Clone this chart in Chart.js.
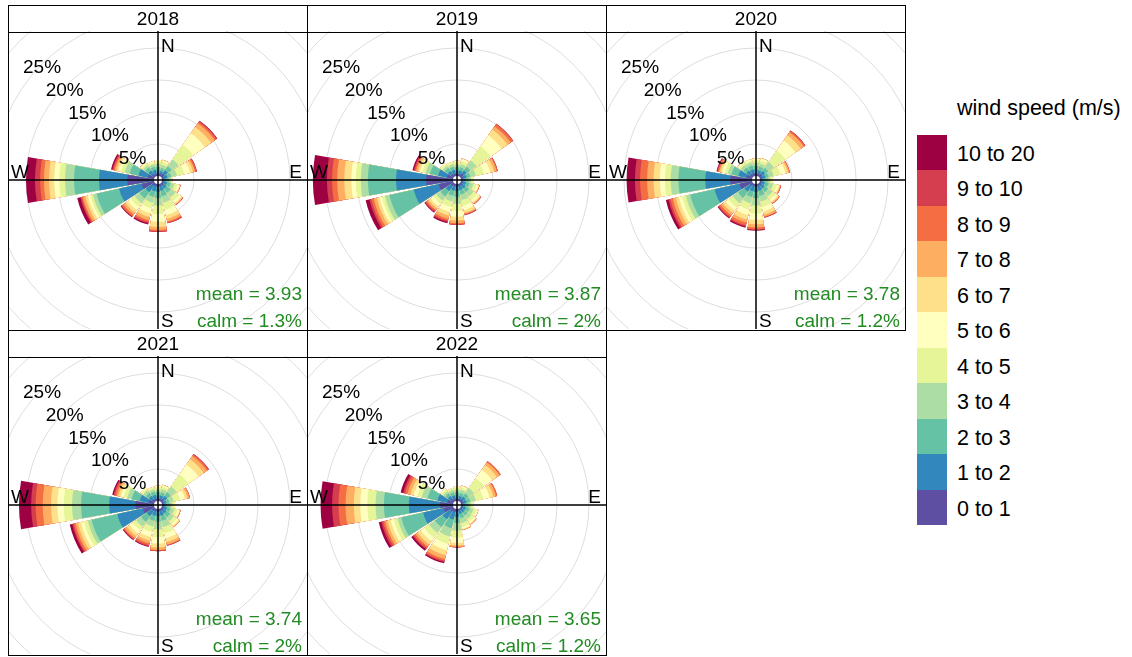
<!DOCTYPE html>
<html>
<head>
<meta charset="utf-8">
<script src="https://cdn.jsdelivr.net/npm/chart.js@4.4.1/dist/chart.umd.min.js"></script>
<style>
body { margin: 0; background: #fff; font-family: "Liberation Sans", Arial, sans-serif; }
#pagina { position: relative; width: 1132px; height: 657px; overflow: hidden; }
.caja { position: absolute; box-sizing: border-box; border: 1px solid #000; z-index: 2; pointer-events: none; }
.tira { text-align: center; font-size: 19px; line-height: 25px; color: #000; }
canvas { position: absolute; z-index: 1; }
.leyenda { position: absolute; font-size: 21.5px; color: #000; white-space: nowrap; }
.color { position: absolute; width: 30px; }
</style>
</head>
<body>
<div id="pagina"></div>
<script>
// datos de la rosa de vientos (% de horas por direccion y rango de velocidad)
const direcciones = ["N","NNE","NE","ENE","E","ESE","SE","SSE","S","SSW","SW","WSW","W","WNW","NW","NNW"]
const velocidades = ["0 to 1","1 to 2","2 to 3","3 to 4","4 to 5","5 to 6","6 to 7","7 to 8","8 to 9","9 to 10","10 to 20"]
const colores = ["#5E4FA2","#3288BD","#66C2A5","#ABDDA4","#E6F598","#FFFFBF","#FEE08B","#FDAE61","#F46D43","#D53E4F","#9E0142"]
const anios = ["2018","2019","2020","2021","2022"]
const medias = ["3.93","3.87","3.78","3.74","3.65"]
const calmas = ["1.3%","2%","1.2%","2%","1.2%"]
const circulos = [5,10,15,20,25,30]

// cada fila: una direccion (N, NNE, ... NNW), cada columna: un rango de velocidad
const rosa2018 = [
  [0.4,0.5,0.5,0.5,0.4,0.2,0,0,0,0,0],
  [0.4,0.4,0.5,0.5,0.5,0.2,0.1,0,0,0,0],
  [0.6,0.65,0.75,1.3,2.8,2.2,1.2,0.7,0.3,0.15,0.05],
  [0.4,0.5,0.6,0.9,1.2,0.9,0.5,0.3,0.2,0.1,0],
  [0.3,0.4,0.4,0.3,0.2,0,0,0,0,0,0],
  [0.3,0.5,0.6,0.6,0.5,0.3,0.1,0.05,0.05,0,0],
  [0.4,0.6,0.8,0.9,0.7,0.4,0.2,0.1,0.05,0.05,0],
  [0.4,0.7,0.9,1.0,1.1,0.9,0.6,0.4,0.2,0.1,0],
  [0.4,0.8,1.0,1.2,1.3,1.2,0.8,0.5,0.2,0.1,0],
  [0.4,0.8,0.9,0.9,0.9,0.8,0.6,0.5,0.3,0.2,0.2],
  [0.5,1.2,1.2,0.9,0.7,0.6,0.5,0.4,0.3,0.1,0.1],
  [2.0,3.6,3.6,0.6,0.4,0.4,0.4,0.4,0.2,0.2,0.5],
  [4.17,4.42,3.91,1.4,0.9,0.8,0.8,0.8,0.6,0.8,1.4],
  [1.0,1.5,1.4,0.8,0.6,0.4,0.3,0.3,0.2,0.2,0.2],
  [0.5,0.7,0.6,0.4,0.3,0.2,0.1,0,0,0,0],
  [0.4,0.6,0.5,0.4,0.3,0.2,0,0,0,0,0]
]
const rosa2019 = [
  [0.4,0.5,0.5,0.4,0.4,0.2,0,0,0,0,0],
  [0.4,0.5,0.5,0.5,0.5,0.3,0.1,0,0,0,0],
  [0.6,0.6,0.7,1.2,2.7,2.1,1.1,0.6,0.4,0.1,0],
  [0.4,0.5,0.6,0.9,1.3,1.0,0.6,0.4,0.15,0.05,0],
  [0.3,0.4,0.5,0.4,0.3,0.1,0,0,0,0,0],
  [0.3,0.5,0.6,0.6,0.5,0.3,0.1,0.05,0.05,0,0],
  [0.4,0.6,0.7,0.8,0.7,0.4,0.2,0.1,0.05,0.05,0],
  [0.4,0.6,0.7,0.9,0.9,0.7,0.4,0.2,0.1,0.1,0],
  [0.4,0.7,0.9,1.1,1.1,0.9,0.6,0.4,0.2,0.1,0],
  [0.4,0.7,0.8,0.9,0.9,0.8,0.6,0.5,0.3,0.2,0.2],
  [0.5,1.0,1.0,0.8,0.6,0.5,0.4,0.3,0.2,0.2,0.1],
  [2.3,4.0,3.9,0.7,0.5,0.4,0.4,0.5,0.4,0.3,0.6],
  [4.2,4.7,4.4,1.1,0.8,0.7,1.1,1.1,0.8,0.8,2.2],
  [1.0,1.4,1.3,0.7,0.5,0.4,0.3,0.3,0.2,0.2,0.2],
  [0.5,0.6,0.6,0.4,0.3,0.2,0,0,0,0,0],
  [0.4,0.6,0.5,0.4,0.3,0.1,0,0,0,0,0]
]
const rosa2020 = [
  [0.4,0.6,0.6,0.5,0.4,0.2,0.1,0,0,0,0],
  [0.4,0.5,0.6,0.5,0.5,0.3,0.1,0,0,0,0],
  [0.5,0.6,0.6,1.1,2.2,1.9,1.0,0.6,0.2,0.1,0],
  [0.4,0.5,0.5,0.8,1.1,0.8,0.4,0.2,0.1,0,0],
  [0.3,0.4,0.5,0.4,0.3,0.1,0,0,0,0,0],
  [0.3,0.5,0.6,0.7,0.6,0.3,0.2,0.1,0.05,0.05,0],
  [0.4,0.6,0.7,0.8,0.6,0.4,0.2,0.1,0.1,0,0],
  [0.4,0.7,0.8,0.9,0.9,0.7,0.5,0.3,0.1,0.1,0],
  [0.4,0.8,1.0,1.2,1.2,1.0,0.7,0.5,0.3,0.1,0.1],
  [0.4,0.8,0.9,1.0,1.0,0.9,0.7,0.5,0.4,0.2,0.2],
  [0.5,1.1,1.2,1.0,0.8,0.6,0.5,0.4,0.3,0.2,0.1],
  [2.0,4.0,3.9,0.7,0.6,0.5,0.5,0.5,0.4,0.3,0.4],
  [3.4,3.9,4.2,1.2,0.9,0.8,1.0,1.0,1.1,0.8,1.3],
  [0.9,1.3,1.1,0.6,0.5,0.4,0.3,0.2,0.2,0.1,0.1],
  [0.5,0.7,0.6,0.5,0.3,0.2,0.1,0,0,0,0],
  [0.5,0.6,0.6,0.5,0.3,0.2,0,0,0,0,0]
]
const rosa2021 = [
  [0.4,0.5,0.5,0.4,0.4,0.2,0,0,0,0,0],
  [0.4,0.5,0.5,0.5,0.4,0.2,0.1,0,0,0,0],
  [0.5,0.6,0.7,1.1,2.3,1.9,1.0,0.6,0.3,0.1,0],
  [0.3,0.4,0.5,0.7,1.0,0.8,0.4,0.3,0.1,0,0],
  [0.3,0.4,0.5,0.4,0.3,0.1,0,0,0,0,0],
  [0.3,0.5,0.6,0.6,0.5,0.3,0.1,0.05,0.05,0,0],
  [0.4,0.6,0.7,0.7,0.6,0.3,0.2,0.1,0,0,0],
  [0.4,0.7,0.8,1.0,1.0,0.8,0.6,0.4,0.1,0.1,0],
  [0.4,0.7,0.9,1.2,1.2,1.0,0.6,0.4,0.1,0.1,0],
  [0.4,0.7,0.8,0.9,0.9,0.8,0.6,0.4,0.3,0.2,0.1],
  [0.5,1.0,1.1,0.9,0.7,0.6,0.5,0.4,0.2,0.1,0.1],
  [1.8,4.1,4.1,0.6,0.6,0.5,0.5,0.4,0.3,0.2,0.4],
  [2.9,4.1,4.4,1.4,1.3,1.0,1.0,1.3,1.1,0.7,1.9],
  [0.9,1.4,1.3,0.7,0.6,0.4,0.4,0.3,0.3,0.2,0.2],
  [0.5,0.6,0.6,0.5,0.3,0.2,0,0,0,0,0],
  [0.4,0.6,0.5,0.4,0.3,0.1,0,0,0,0,0]
]
const rosa2022 = [
  [0.4,0.5,0.5,0.4,0.3,0.2,0,0,0,0,0],
  [0.4,0.4,0.5,0.5,0.4,0.2,0.1,0,0,0,0],
  [0.5,0.5,0.6,1.0,1.9,1.6,0.9,0.5,0.2,0,0],
  [0.4,0.5,0.6,0.9,1.2,1.0,0.6,0.4,0.2,0,0],
  [0.3,0.4,0.5,0.4,0.3,0.1,0,0,0,0,0],
  [0.3,0.5,0.6,0.6,0.5,0.2,0.1,0,0,0,0],
  [0.3,0.5,0.6,0.7,0.5,0.3,0.1,0.1,0,0,0],
  [0.3,0.5,0.7,0.8,0.6,0.3,0.1,0.1,0,0,0],
  [0.4,0.8,1.0,1.2,1.1,0.8,0.4,0.2,0.1,0,0],
  [0.5,1.2,1.4,1.3,1.2,1.0,0.8,0.6,0.3,0.2,0.2],
  [0.6,1.5,1.5,1.1,0.9,0.7,0.6,0.4,0.3,0.2,0.3],
  [1.5,3.3,3.5,0.6,0.6,0.5,0.5,0.4,0.3,0.3,0.4],
  [2.0,4.9,3.9,1.3,1.3,1.1,1.0,1.3,1.1,1.0,1.8],
  [0.9,1.6,1.6,0.9,0.7,0.6,0.5,0.5,0.4,0.3,0.4],
  [0.5,0.6,0.5,0.4,0.3,0.2,0,0,0,0,0],
  [0.4,0.5,0.5,0.4,0.2,0.1,0,0,0,0,0]
]
const rosas = [rosa2018, rosa2019, rosa2020, rosa2021, rosa2022]

const HUECO = 0.625   // radio del circulo central en %
const ANCHO = 20      // grados de cada cuna
const SEPARA = 2.5    // grados de separacion
const verde = "#228B22"
const fuente = '19px "Liberation Sans", Arial, sans-serif'

// suma acumulada hasta el rango k, para apilar las cunas
function acumular(rosa, k){
  return rosa.map(fila => fila.slice(0, k + 1).reduce((a, b) => a + b, 0))
}

// ejes, letras y textos encima de las cunas
const decoracion = {
  id: 'decoracion',
  afterDatasetsDraw(chart, args, opts){
    const ctx = chart.ctx
    const r = chart.scales.r
    const cx = r.xCenter, cy = r.yCenter
    const W = chart.width, H = chart.height
    ctx.save()
    ctx.fillStyle = "#fff"
    ctx.beginPath()
    ctx.arc(cx, cy, r.getDistanceFromCenterForValue(0), 0, 2 * Math.PI)
    ctx.fill()

    ctx.strokeStyle = "#000"
    ctx.lineWidth = 1.5
    ctx.beginPath()
    ctx.moveTo(0, cy); ctx.lineTo(W, cy)
    ctx.moveTo(cx, 0); ctx.lineTo(cx, H)
    ctx.stroke()

    ctx.font = fuente
    ctx.fillStyle = "#000"
    ctx.textBaseline = "alphabetic"
    ctx.textAlign = "left"
    ctx.fillText("N", cx + 3, 21)
    ctx.fillText("S", cx + 3, H - 2)
    ctx.fillText("W", 2, cy - 2)
    ctx.textAlign = "right"
    ctx.fillText("E", W - 5, cy - 2)

    ctx.textAlign = "center"
    ctx.textBaseline = "middle"
    circulos.forEach(p => {
      const d = r.getDistanceFromCenterForValue(p) * Math.SQRT1_2
      if (cx - d > 20) ctx.fillText(p + "%", cx - d, cy - d + 4)
    })

    ctx.fillStyle = verde
    ctx.textAlign = "right"
    ctx.textBaseline = "alphabetic"
    ctx.fillText("mean = " + opts.media, W - 5, 269)
    ctx.fillText("calm = " + opts.calma, W - 5, 296)
    ctx.restore()
  }
}

function crearRosa(canvas, rosa, media, calma){
  const labels = []
  direcciones.forEach(d => { labels.push(d); labels.push("") })

  const datasets = velocidades.map((vel, k) => {
    const data = []
    acumular(rosa, k).forEach(v => { data.push(v); data.push(-HUECO) })
    return {
      label: vel,
      data: data,
      backgroundColor: colores[k],
      borderWidth: 0,
      angle: c => c.dataIndex % 2 === 0 ? ANCHO : SEPARA
    }
  })

  new Chart(canvas, {
    type: 'polarArea',
    data: { labels: labels, datasets: datasets },
    options: {
      responsive: false,
      animation: false,
      layout: { padding: 0 },
      plugins: {
        legend: { display: false },
        tooltip: { enabled: false },
        decoracion: { media: media, calma: calma }
      },
      scales: {
        r: {
          min: -HUECO,
          max: -HUECO + 149 / 6.4,
          startAngle: -ANCHO / 2,
          ticks: { display: false },
          grid: { circular: true, color: "#dddddd", lineWidth: 1 },
          angleLines: { display: false },
          pointLabels: { display: false },
          afterBuildTicks: eje => { eje.ticks = circulos.map(v => ({ value: v })) }
        }
      }
    },
    plugins: [decoracion]
  })
}

let pagina = document.getElementById("pagina")
const colX = [8, 307, 606]
const tiraY = [5, 330]
const plotY = [32, 357]

anios.forEach((anio, i) => {
  const x = colX[i % 3]
  const fila = Math.floor(i / 3)

  const canvas = document.createElement("canvas")
  canvas.width = 298
  canvas.height = 298
  canvas.style.left = (x + 1) + "px"
  canvas.style.top = (plotY[fila] - 1) + "px"
  pagina.appendChild(canvas)

  const tira = document.createElement("div")
  tira.className = "caja tira"
  tira.style.left = x + "px"
  tira.style.top = tiraY[fila] + "px"
  tira.style.width = "300px"
  tira.style.height = (plotY[fila] - tiraY[fila] + 1) + "px"
  tira.textContent = anio
  pagina.appendChild(tira)

  const caja = document.createElement("div")
  caja.className = "caja"
  caja.style.left = x + "px"
  caja.style.top = plotY[fila] + "px"
  caja.style.width = "300px"
  caja.style.height = "299px"
  pagina.appendChild(caja)

  crearRosa(canvas, rosas[i], medias[i], calmas[i])
})

// leyenda de velocidades (de mayor a menor)
let titulo = document.createElement("div")
titulo.className = "leyenda"
titulo.style.left = "957px"
titulo.style.top = "96px"
titulo.textContent = "wind speed (m/s)"
pagina.appendChild(titulo)

const altoCaja = 35.45
velocidades.slice().reverse().forEach((vel, j) => {
  const k = velocidades.length - 1 - j
  const top = 135 + j * altoCaja
  let c = document.createElement("div")
  c.className = "color"
  c.style.left = "917px"
  c.style.top = top + "px"
  c.style.height = (altoCaja + 0.5) + "px"
  c.style.background = colores[k]
  pagina.appendChild(c)

  let t = document.createElement("div")
  t.className = "leyenda"
  t.style.left = "957px"
  t.style.top = (top + 7) + "px"
  t.textContent = vel
  pagina.appendChild(t)
})
</script>
</body>
</html>
